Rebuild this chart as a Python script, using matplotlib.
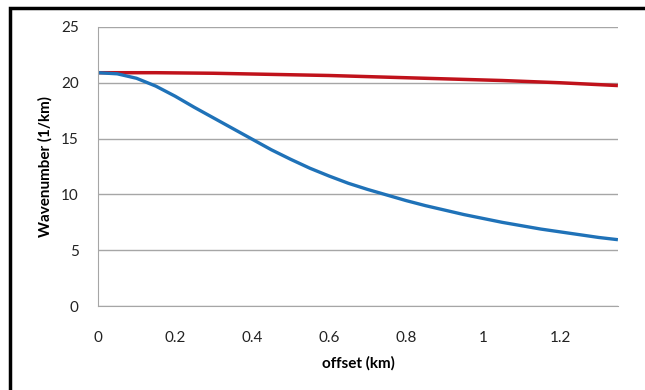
import matplotlib.pyplot as plt
from matplotlib.patches import Rectangle

# offset (km) and wavenumber (1/km)
offset_blue = [0, 0.05, 0.1, 0.15, 0.2, 0.25, 0.3, 0.35, 0.4, 0.45, 0.5, 0.55, 0.6, 0.65,
               0.7, 0.75, 0.8, 0.85, 0.9, 0.95, 1.0, 1.05, 1.1, 1.15, 1.2, 1.25, 1.3, 1.35]
wave_blue = [20.9, 20.8, 20.4, 19.7, 18.8, 17.8, 16.85, 15.9, 14.95, 14.0, 13.15, 12.35, 11.65, 11.0,
             10.45, 9.95, 9.45, 9.0, 8.6, 8.2, 7.85, 7.5, 7.2, 6.9, 6.65, 6.4, 6.15, 5.95]
offset_red = [0, 0.15, 0.3, 0.45, 0.6, 0.75, 0.9, 1.05, 1.2, 1.35]
wave_red = [20.9, 20.9, 20.85, 20.75, 20.65, 20.5, 20.35, 20.2, 20.0, 19.75]

x_ticks = [0, 0.2, 0.4, 0.6, 0.8, 1, 1.2]
x_labels = ['0', '0.2', '0.4', '0.6', '0.8', '1', '1.2']
y_ticks = [0, 5, 10, 15, 20, 25]

plt.rcParams['font.family'] = ['Lato', 'DejaVu Sans']

fig = plt.figure(figsize=(6.45, 3.9), dpi=100)
ax = fig.add_axes([0.152, 0.215, 0.806, 0.716])

ax.plot(offset_red, wave_red, color='#C0121B', lw=2.5, solid_capstyle='butt')
ax.plot(offset_blue, wave_blue, color='#1F72B8', lw=2.4, solid_capstyle='butt')

ax.set_xlim(0, 1.35)
ax.set_ylim(0, 25)
ax.set_xticks(x_ticks)
ax.set_xticklabels(x_labels)
ax.set_yticks(y_ticks)
ax.grid(axis='y', color='#A6A6A6', lw=1)
ax.set_axisbelow(True)
for s in ['top', 'right']:
    ax.spines[s].set_visible(False)
ax.spines['left'].set_color('#A6A6A6')
ax.spines['bottom'].set_color('#A6A6A6')
ax.tick_params(length=0, labelsize=11, colors='#222222')
ax.tick_params(axis='x', pad=18)
ax.tick_params(axis='y', pad=14)

ax.set_xlabel('offset (km)', fontsize=11, fontweight='bold', labelpad=8)
ax.set_ylabel('Wavenumber (1/km)', fontsize=11, fontweight='bold', labelpad=6)

# black frame around the whole chart (runs off the right and bottom edges)
fig.add_artist(Rectangle((10 / 645, -0.1), 1.2, 1.1 - 8 / 390,
                         transform=fig.transFigure, fill=False, ec='black', lw=2.5, clip_on=False))

fig.savefig('out.png', dpi=100)
